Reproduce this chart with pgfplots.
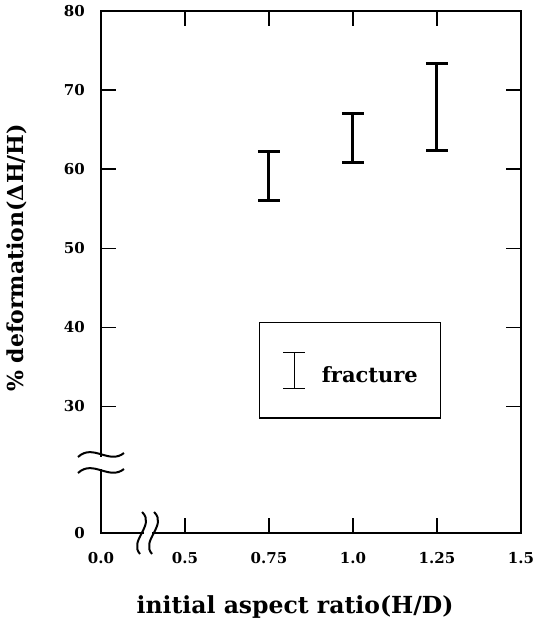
\documentclass[border=0pt]{standalone}
\usepackage{pgfplots}
\usepackage{pgfplotstable}
\pgfplotsset{compat=1.18}
\usepackage{fontspec}
\setmainfont{DejaVu Serif}
\begin{document}
\begin{tikzpicture}
\pgfplotstableread{
x lo hi
2 56.1 62.2
3 60.8 67.1
4 62.4 73.4
}\fracdata
\begin{axis}[
  scale only axis, width=420bp, height=522bp,
  xmin=0, xmax=5, ymin=14, ymax=80,
  axis line style={line width=1.8bp},
  xtick={0,1,2,3,4,5}, xticklabels={0.0,0.5,0.75,1.0,1.25,1.5},
  ytick={14,30,40,50,60,70,80}, yticklabels={0,30,40,50,60,70,80},
  tick align=inside, tick pos=both,
  major tick length=15bp,
  tick style={line width=1.5bp, black},
  ticklabel style={font=\fontsize{15bp}{18bp}\selectfont\bfseries, inner sep=0pt},
  /pgf/number format/assume math mode=true,
  yticklabel style={xshift=-16bp},
  xticklabel style={yshift=-19bp},
  xlabel={initial aspect ratio(H/D)},
  ylabel={\% deformation(ΔH/H)},
  xlabel style={font=\fontsize{23.5bp}{28bp}\selectfont\bfseries, at={(axis description cs:0.462,-0.1418)}, anchor=center},
  ylabel style={font=\fontsize{22bp}{26bp}\selectfont\bfseries, at={(axis description cs:-0.2,0.527)}, anchor=center},
  legend style={at={(axis cs:1.881,40.68)}, anchor=north west, draw=black, line width=1.3bp,
    inner xsep=23bp, inner ysep=29bp, column sep=16bp,
    font=\fontsize{21bp}{25bp}\selectfont\bfseries, nodes={inner sep=0pt}},
  clip=false,
]
\addplot[draw=none, mark=none, black,
  legend image code/.code={
    \draw[line width=1.3bp, black] (11bp,-13bp) -- (11bp,23bp)
      (0bp,-13bp) -- (22bp,-13bp) (0bp,23bp) -- (22bp,23bp);},
  error bars/.cd, y dir=both, y explicit,
  error bar style={draw=black, solid, line width=3bp},
  error mark=|,
  error mark options={draw=black, solid, line width=3bp, mark size=11bp}]
  table[x=x, y expr=(\thisrow{lo}+\thisrow{hi})/2, y error expr=(\thisrow{hi}-\thisrow{lo})/2] {\fracdata};
\addlegendentry{fracture}
\coordinate (SW) at (axis description cs:0,0);
% axis break marks
\begin{scope}[shift={(axis cs:0,22.85)}]
  \fill[white] (-3bp,-6bp) rectangle (3bp,6bp);
  \draw[line width=2bp] (-23bp,6bp) .. controls (-8bp,20bp) and (8bp,-2bp) .. (23bp,10bp);
  \draw[line width=2bp] (-23bp,-10bp) .. controls (-8bp,4bp) and (8bp,-18bp) .. (23bp,-6bp);
\end{scope}
\begin{scope}[shift={(axis cs:0.56,14)}]
  \fill[white] (-4bp,-3bp) rectangle (4bp,3bp);
  \draw[line width=2bp] (-6bp,21bp) .. controls (8bp,8bp) and (-20bp,-8bp) .. (-8bp,-21bp);
  \draw[line width=2bp] (6bp,21bp) .. controls (20bp,8bp) and (-8bp,-8bp) .. (4bp,-21bp);
\end{scope}
\end{axis}
\pgfresetboundingbox
\path[use as bounding box] ([shift={(-101bp,-89bp)}]SW) rectangle ++(544bp,622bp);
\end{tikzpicture}
\end{document}
